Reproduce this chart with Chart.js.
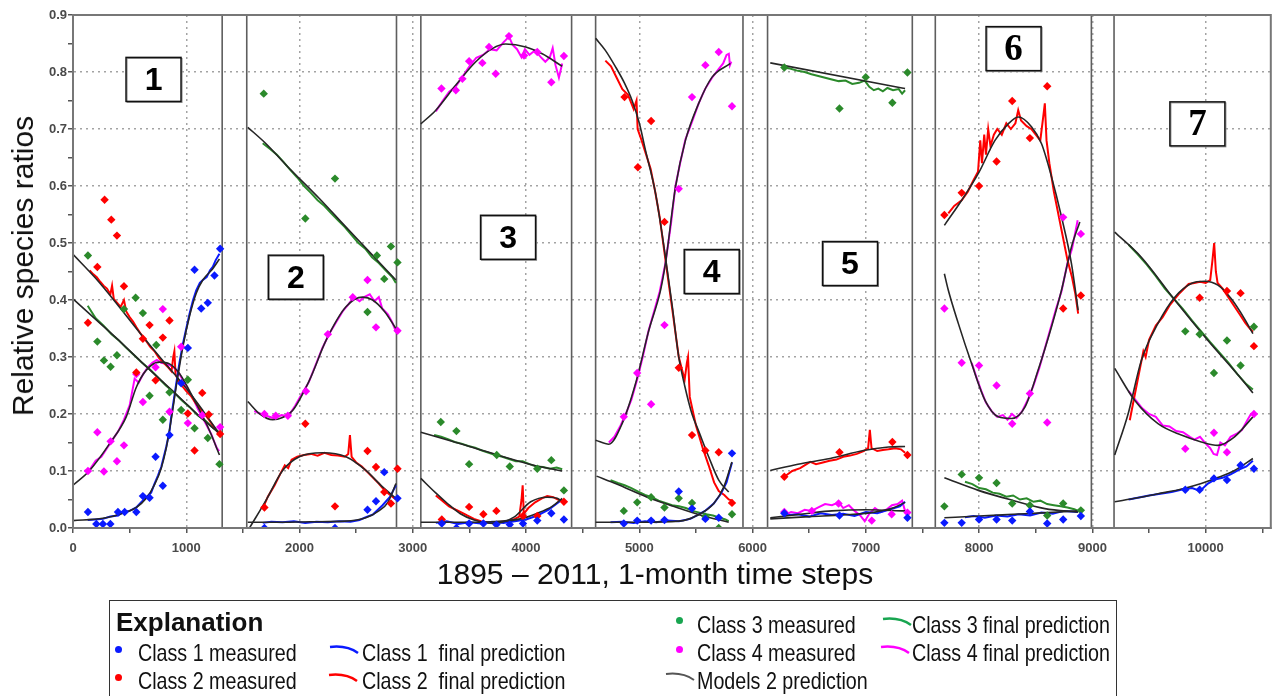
<!DOCTYPE html>
<html>
<head>
<meta charset="utf-8">
<script src="https://cdn.jsdelivr.net/npm/chart.js@4.4.1/dist/chart.umd.min.js"></script>
<style>
  body { margin: 0; background: #fff; }
  #wrap { position: relative; width: 1275px; height: 696px; overflow: hidden;
          font-family: "Liberation Sans", Arial, sans-serif; color: #111; }
  #chart { position: absolute; left: 0; top: 0; }
  .axis-title { position: absolute; font-size: 30px; line-height: 30px; white-space: nowrap;
                transform: translate(-50%, -50%); }
  #ytitle { transform: translate(-50%, -50%) rotate(-90deg); }
  #legendBox { position: absolute; left: 109px; top: 600px; width: 1008px; height: 130px;
               border: 1.5px solid #333; box-sizing: border-box; }
  .lg { position: absolute; font-size: 24px; line-height: 24px; white-space: nowrap;
        transform: scaleX(0.82); transform-origin: 0 50%; }
  .dot { position: absolute; width: 7px; height: 7px; border-radius: 50%; }
  .swoosh { position: absolute; }
</style>
</head>
<body>
<div id="wrap">
  <canvas id="chart" width="1275" height="696"></canvas>
  <div class="axis-title" id="ytitle" style="left:23px; top:266px;">Relative species ratios</div>
  <div class="axis-title" style="left:655px; top:574px;">1895 – 2011, 1-month time steps</div>

  <div id="legendBox"></div>
  <div class="lg" style="left:116px; top:609px; font-weight:bold; font-size:26px; line-height:26px; transform:none;">Explanation</div>

  <div class="dot" style="left:115px; top:646px; background:#0a1aff;"></div>
  <div class="lg" style="left:138px; top:641px;">Class 1 measured</div>
  <div class="dot" style="left:115px; top:674px; background:#ff0000;"></div>
  <div class="lg" style="left:138px; top:669px;">Class 2 measured</div>

  <svg class="swoosh" style="left:329px; top:644px;" width="30" height="12"><path d="M1 3 Q 18 1 29 9" stroke="#0a1aff" stroke-width="2.5" fill="none"/></svg>
  <div class="lg" style="left:362px; top:641px;">Class 1&nbsp; final prediction</div>
  <svg class="swoosh" style="left:328px; top:672px;" width="30" height="12"><path d="M1 3 Q 18 1 29 9" stroke="#ff0000" stroke-width="2.5" fill="none"/></svg>
  <div class="lg" style="left:362px; top:669px;">Class 2&nbsp; final prediction</div>

  <div class="dot" style="left:676px; top:617px; background:#18a550;"></div>
  <div class="lg" style="left:697px; top:613px;">Class 3 measured</div>
  <div class="dot" style="left:676px; top:646px; background:#ff00ff;"></div>
  <div class="lg" style="left:697px; top:641px;">Class 4 measured</div>
  <svg class="swoosh" style="left:665px; top:671px;" width="30" height="12"><path d="M1 3 Q 18 1 29 9" stroke="#555" stroke-width="2" fill="none"/></svg>
  <div class="lg" style="left:697px; top:669px;">Models 2 prediction</div>

  <svg class="swoosh" style="left:882px; top:616px;" width="30" height="12"><path d="M1 3 Q 18 1 29 9" stroke="#18a550" stroke-width="2.5" fill="none"/></svg>
  <div class="lg" style="left:912px; top:613px;">Class 3 final prediction</div>
  <svg class="swoosh" style="left:880px; top:644px;" width="30" height="12"><path d="M1 3 Q 18 1 29 9" stroke="#ff00ff" stroke-width="2.5" fill="none"/></svg>
  <div class="lg" style="left:912px; top:641px;">Class 4 final prediction</div>
</div>

<script>
// measured ratios, all seven panels (time step, ratio)
const class1Measured = [
  [132,0.028],[206,0.007],[264,0.007],[330,0.007],[397,0.028],[456,0.028],[559,0.028],[617,0.056],[676,0.053],[729,0.125],[793,0.074],[852,0.163],[955,0.254],[1014,0.316],[1073,0.453],[1132,0.385],[1190,0.395],[1249,0.443],[1299,0.49],
  [1690,0.0],[2313,0.0],[2600,0.032],[2675,0.047],[2748,0.098],[2865,0.052],
  [3256,0.008],[3385,0.0],[3497,0.008],[3623,0.008],[3738,0.006],[3856,0.006],[3973,0.008],[4099,0.013],[4223,0.026],[4334,0.015],
  [4863,0.008],[4981,0.013],[5104,0.013],[5222,0.014],[5348,0.064],[5465,0.034],[5583,0.016],[5701,0.018],[5818,0.131],
  [6280,0.026],[6767,0.022],[7367,0.018],
  [7693,0.009],[7846,0.009],[7999,0.015],[8154,0.015],[8292,0.013],[8448,0.029],[8601,0.008],[8742,0.015],[8898,0.021],
  [9820,0.067],[9947,0.067],[10073,0.087],[10188,0.084],[10308,0.11],[10426,0.104]
];
const class2Measured = [
  [132,0.36],[215,0.458],[279,0.576],[338,0.541],[388,0.513],[450,0.424],[559,0.273],[617,0.332],[676,0.356],[729,0.259],[793,0.334],[852,0.364],[1014,0.201],[1073,0.136],[1141,0.237],[1199,0.199],[1299,0.165],
  [1690,0.036],[2051,0.183],[2313,0.038],[2600,0.135],[2675,0.107],[2748,0.063],[2807,0.043],[2865,0.104],
  [3256,0.015],[3497,0.037],[3623,0.024],[3738,0.03],[3973,0.021],[4099,0.021],[4334,0.046],
  [4869,0.756],[4987,0.633],[5104,0.714],[5222,0.537],[5348,0.281],[5465,0.163],[5583,0.136],[5701,0.133],[5818,0.044],
  [6280,0.09],[6767,0.133],[7234,0.151],[7367,0.128],
  [7693,0.549],[7846,0.588],[7999,0.6],[8154,0.643],[8292,0.749],[8448,0.684],[8601,0.775],[8742,0.385],[8898,0.408],
  [9947,0.404],[10188,0.416],[10308,0.412],[10426,0.319]
];
const class3Measured = [
  [132,0.478],[215,0.327],[273,0.294],[332,0.283],[388,0.303],[450,0.384],[553,0.404],[617,0.377],[676,0.232],[735,0.321],[793,0.19],[852,0.238],[955,0.207],[1014,0.26],[1073,0.175],[1190,0.158],[1293,0.112],
  [1684,0.762],[2051,0.543],[2313,0.613],[2600,0.379],[2683,0.478],[2748,0.437],[2807,0.494],[2865,0.466],
  [3247,0.186],[3385,0.17],[3497,0.112],[3741,0.128],[3856,0.108],[4099,0.104],[4223,0.119],[4334,0.066],
  [4863,0.03],[4981,0.045],[5104,0.054],[5222,0.036],[5348,0.052],[5465,0.044],[5583,0.02],[5701,0.0],[5818,0.024],
  [6280,0.808],[6767,0.736],[6999,0.791],[7234,0.746],[7367,0.799],
  [7693,0.038],[7846,0.094],[7999,0.088],[8154,0.079],[8292,0.043],[8448,0.04],[8601,0.022],[8742,0.043],[8898,0.031],
  [9820,0.345],[9947,0.34],[10073,0.272],[10188,0.329],[10308,0.285],[10426,0.353]
];
const class4Measured = [
  [132,0.1],[215,0.168],[273,0.099],[332,0.152],[388,0.117],[450,0.145],[559,0.27],[617,0.221],[729,0.282],[793,0.384],[852,0.204],[955,0.318],[1014,0.184],[1141,0.198],[1299,0.177],
  [1690,0.2],[1790,0.197],[1897,0.197],[2057,0.24],[2250,0.34],[2470,0.405],[2600,0.435],[2675,0.352],[2865,0.346],
  [3253,0.771],[3380,0.768],[3438,0.788],[3497,0.819],[3614,0.816],[3673,0.844],[3732,0.797],[3849,0.863],[3982,0.829],[4099,0.835],[4223,0.782],[4334,0.828],
  [4863,0.195],[4981,0.272],[5104,0.217],[5222,0.356],[5348,0.595],[5465,0.756],[5583,0.812],[5701,0.835],[5818,0.74],
  [6280,0.028],[6523,0.03],[6759,0.043],[7052,0.013],[7228,0.024],[7367,0.027],
  [7693,0.385],[7846,0.29],[7999,0.285],[8154,0.25],[8292,0.183],[8448,0.236],[8601,0.185],[8742,0.545],[8898,0.516],
  [9820,0.139],[10073,0.167],[10188,0.133],[10426,0.2]
];

// final predictions, one list per panel
const class1Final = [
  [[130,0.014],[200,0.015],[264,0.016],[330,0.02],[400,0.022],[441,0.028],[500,0.03],[559,0.036],[600,0.045],[647,0.054],[690,0.062],[720,0.078],[750,0.092],[779,0.107],[823,0.142],[852,0.17],[867,0.195],[911,0.253],[940,0.29],[970,0.323],[1000,0.35],[1029,0.376],[1060,0.4],[1088,0.417],[1120,0.43],[1146,0.435],[1180,0.44],[1210,0.452],[1234,0.458],[1260,0.47],[1293,0.481]],
  [[1675,0.009],[1750,0.011],[1850,0.01],[1950,0.012],[2050,0.009],[2150,0.011],[2250,0.01],[2350,0.012],[2450,0.011],[2530,0.014],[2586,0.019],[2650,0.024],[2733,0.04],[2800,0.055],[2851,0.075]],
  [[3203,0.009],[3300,0.012],[3400,0.007],[3500,0.01],[3600,0.008],[3700,0.011],[3800,0.009],[3900,0.012],[4000,0.015],[4100,0.022],[4200,0.032],[4319,0.05]],
  [[4746,0.01],[4850,0.011],[4950,0.009],[5050,0.012],[5150,0.01],[5250,0.013],[5350,0.012],[5450,0.016],[5509,0.022],[5580,0.03],[5657,0.043],[5720,0.06],[5770,0.08],[5818,0.115]],
  [[6274,0.022],[6400,0.024],[6500,0.02],[6600,0.026],[6700,0.023],[6800,0.025],[6900,0.021],[7000,0.028],[7100,0.026],[7200,0.032],[7300,0.038],[7346,0.046]],
  [[7875,0.019],[7950,0.021],[8050,0.018],[8150,0.022],[8250,0.02],[8350,0.024],[8450,0.022],[8550,0.027],[8650,0.025],[8750,0.03],[8874,0.028]],
  [[9320,0.05],[9400,0.053],[9500,0.057],[9600,0.06],[9700,0.063],[9800,0.068],[9880,0.07],[9950,0.065],[10020,0.078],[10080,0.085],[10150,0.088],[10220,0.094],[10300,0.103],[10360,0.108],[10417,0.118]]
];
const class2Final = [
  [[147,0.452],[180,0.445],[210,0.44],[240,0.432],[270,0.425],[300,0.42],[330,0.41],[345,0.425],[360,0.402],[390,0.395],[420,0.388],[450,0.4],[470,0.38],[500,0.37],[530,0.362],[560,0.352],[600,0.34],[640,0.33],[680,0.318],[720,0.31],[760,0.298],[800,0.29],[840,0.282],[870,0.275],[885,0.3],[895,0.31],[905,0.27],[930,0.258],[960,0.25],[1000,0.24],[1040,0.232],[1080,0.22],[1120,0.21],[1160,0.2],[1200,0.19],[1240,0.178],[1270,0.17],[1300,0.163]],
  [[1675,0.034],[1720,0.055],[1780,0.075],[1830,0.095],[1870,0.11],[1900,0.105],[1930,0.12],[1980,0.125],[2040,0.128],[2100,0.13],[2160,0.127],[2220,0.132],[2280,0.128],[2340,0.127],[2400,0.125],[2430,0.13],[2445,0.163],[2460,0.125],[2500,0.115],[2550,0.108],[2600,0.098],[2650,0.088],[2700,0.078],[2750,0.066],[2800,0.058],[2851,0.05]],
  [[3203,0.057],[3260,0.048],[3320,0.038],[3380,0.032],[3424,0.028],[3480,0.022],[3540,0.016],[3600,0.012],[3658,0.01],[3720,0.009],[3780,0.011],[3840,0.012],[3900,0.016],[3940,0.02],[3960,0.05],[3970,0.075],[3980,0.025],[4020,0.035],[4080,0.045],[4140,0.052],[4187,0.056],[4240,0.054],[4280,0.05],[4319,0.048]],
  [[4700,0.82],[4750,0.81],[4800,0.79],[4850,0.77],[4900,0.76],[4950,0.735],[4975,0.75],[4985,0.7],[5020,0.68],[5060,0.655],[5100,0.63],[5140,0.59],[5180,0.545],[5231,0.47],[5290,0.385],[5348,0.3],[5400,0.26],[5420,0.29],[5430,0.3],[5445,0.23],[5500,0.18],[5560,0.14],[5612,0.11],[5660,0.08],[5701,0.065],[5750,0.058],[5789,0.05],[5818,0.048]],
  [[6280,0.09],[6350,0.1],[6420,0.105],[6509,0.116],[6560,0.112],[6620,0.115],[6680,0.118],[6740,0.12],[6800,0.125],[6860,0.127],[6920,0.13],[6980,0.135],[7020,0.14],[7035,0.172],[7050,0.14],[7100,0.135],[7150,0.137],[7200,0.138],[7260,0.14],[7310,0.138],[7346,0.132]],
  [[7728,0.552],[7780,0.565],[7846,0.575],[7900,0.59],[7950,0.61],[7990,0.625],[8010,0.68],[8025,0.64],[8045,0.69],[8060,0.655],[8080,0.7],[8100,0.67],[8130,0.69],[8160,0.7],[8200,0.69],[8240,0.71],[8280,0.7],[8320,0.71],[8345,0.733],[8370,0.715],[8420,0.705],[8460,0.7],[8500,0.69],[8540,0.68],[8565,0.72],[8580,0.745],[8595,0.68],[8620,0.64],[8660,0.59],[8700,0.55],[8740,0.51],[8780,0.47],[8820,0.44],[8850,0.41],[8874,0.376]],
  [[9330,0.189],[9380,0.24],[9420,0.28],[9450,0.31],[9470,0.3],[9500,0.33],[9560,0.355],[9620,0.37],[9680,0.39],[9720,0.4],[9760,0.41],[9800,0.418],[9850,0.428],[9900,0.43],[9950,0.432],[10000,0.43],[10040,0.435],[10060,0.47],[10075,0.5],[10090,0.45],[10105,0.43],[10150,0.42],[10200,0.405],[10250,0.39],[10300,0.375],[10350,0.36],[10390,0.35],[10417,0.344]]
];
const class3Final = [
  [[130,0.39],[200,0.368],[270,0.355],[340,0.34],[400,0.33],[470,0.316],[540,0.303],[610,0.29],[680,0.278],[750,0.264],[820,0.25],[890,0.238],[960,0.224],[1030,0.212],[1100,0.198],[1170,0.188],[1240,0.175],[1293,0.168]],
  [[1675,0.675],[1740,0.665],[1800,0.655],[1860,0.642],[1920,0.628],[1980,0.615],[2040,0.6],[2100,0.588],[2160,0.575],[2220,0.565],[2280,0.552],[2340,0.54],[2400,0.528],[2460,0.514],[2520,0.5],[2580,0.49],[2640,0.475],[2700,0.465],[2760,0.452],[2820,0.44],[2851,0.43]],
  [[3188,0.163],[3250,0.16],[3310,0.156],[3370,0.151],[3430,0.148],[3490,0.144],[3550,0.141],[3610,0.136],[3670,0.132],[3730,0.128],[3790,0.125],[3850,0.121],[3910,0.117],[3970,0.117],[4030,0.112],[4090,0.108],[4150,0.107],[4210,0.104],[4270,0.106],[4319,0.103]],
  [[4746,0.084],[4810,0.079],[4870,0.075],[4930,0.07],[4990,0.064],[5050,0.058],[5110,0.054],[5170,0.048],[5230,0.044],[5290,0.04],[5350,0.038],[5410,0.035],[5470,0.03],[5530,0.027],[5590,0.024],[5650,0.022],[5710,0.018],[5760,0.015],[5789,0.012]],
  [[6274,0.808],[6330,0.806],[6400,0.802],[6460,0.8],[6520,0.796],[6580,0.793],[6640,0.79],[6700,0.787],[6760,0.784],[6820,0.785],[6880,0.779],[6940,0.781],[6990,0.785],[7030,0.774],[7070,0.768],[7110,0.771],[7150,0.766],[7190,0.772],[7240,0.768],[7290,0.77],[7320,0.762],[7346,0.768]],
  [[7875,0.081],[7940,0.077],[8000,0.07],[8060,0.068],[8120,0.062],[8180,0.06],[8240,0.055],[8300,0.057],[8360,0.05],[8420,0.052],[8480,0.046],[8540,0.048],[8600,0.042],[8660,0.04],[8720,0.038],[8780,0.036],[8840,0.033],[8874,0.03]],
  [[9320,0.497],[9400,0.48],[9480,0.462],[9560,0.442],[9640,0.42],[9720,0.402],[9800,0.384],[9880,0.364],[9960,0.345],[10040,0.326],[10120,0.308],[10200,0.29],[10280,0.27],[10360,0.252],[10417,0.243]]
];
const class4Final = [
  [[100,0.1],[150,0.103],[200,0.118],[250,0.125],[300,0.14],[350,0.155],[400,0.17],[450,0.19],[500,0.215],[544,0.262],[580,0.255],[620,0.27],[660,0.282],[700,0.29],[740,0.295],[780,0.29],[820,0.288],[860,0.285],[900,0.28],[940,0.27],[980,0.255],[1020,0.24],[1060,0.228],[1100,0.21],[1140,0.195],[1180,0.18],[1220,0.165],[1250,0.15],[1270,0.14],[1290,0.135]],
  [[1600,0.205],[1660,0.2],[1720,0.196],[1780,0.192],[1840,0.198],[1900,0.196],[1960,0.214],[2020,0.235],[2080,0.255],[2140,0.285],[2200,0.315],[2260,0.34],[2320,0.36],[2380,0.38],[2430,0.392],[2480,0.405],[2530,0.398],[2570,0.405],[2620,0.41],[2660,0.398],[2700,0.405],[2730,0.385],[2780,0.375],[2820,0.36],[2851,0.345]],
  [[3203,0.731],[3260,0.748],[3320,0.765],[3380,0.775],[3440,0.792],[3500,0.81],[3560,0.825],[3620,0.83],[3680,0.84],[3740,0.838],[3800,0.852],[3850,0.862],[3880,0.848],[3920,0.84],[3960,0.826],[3990,0.84],[4030,0.83],[4080,0.838],[4130,0.826],[4170,0.818],[4210,0.826],[4235,0.842],[4260,0.812],[4290,0.79],[4319,0.815]],
  [[4731,0.15],[4780,0.16],[4830,0.178],[4880,0.2],[4930,0.225],[4980,0.26],[5030,0.3],[5080,0.345],[5130,0.38],[5180,0.415],[5231,0.465],[5280,0.535],[5319,0.6],[5360,0.64],[5407,0.682],[5460,0.71],[5524,0.745],[5580,0.77],[5642,0.79],[5700,0.805],[5740,0.815],[5770,0.83],[5790,0.832],[5800,0.812],[5812,0.818]],
  [[6274,0.022],[6340,0.028],[6400,0.026],[6460,0.032],[6520,0.03],[6580,0.036],[6640,0.042],[6700,0.04],[6760,0.045],[6800,0.035],[6850,0.04],[6900,0.03],[6950,0.022],[6990,0.012],[7030,0.025],[7080,0.035],[7130,0.028],[7180,0.032],[7230,0.04],[7280,0.042],[7320,0.048],[7346,0.03]],
  [[7934,0.29],[7980,0.262],[8020,0.24],[8060,0.22],[8110,0.205],[8160,0.195],[8210,0.198],[8250,0.19],[8290,0.2],[8330,0.193],[8380,0.205],[8430,0.225],[8480,0.25],[8530,0.28],[8580,0.315],[8630,0.35],[8680,0.385],[8727,0.415],[8780,0.465],[8820,0.49],[8850,0.52],[8870,0.54]],
  [[9320,0.24],[9380,0.225],[9440,0.21],[9500,0.2],[9560,0.195],[9620,0.18],[9680,0.178],[9740,0.17],[9800,0.168],[9860,0.16],[9900,0.155],[9950,0.16],[10000,0.148],[10040,0.14],[10070,0.13],[10100,0.128],[10130,0.15],[10170,0.145],[10220,0.16],[10270,0.165],[10320,0.172],[10370,0.19],[10400,0.2],[10430,0.2]]
];

// "Models 2" predictions (black), one list per panel
const class1Model = [
  [[0,0.013],[264,0.017],[441,0.026],[559,0.036],[647,0.052],[720,0.076],[779,0.105],[823,0.14],[867,0.19],[911,0.248],[970,0.318],[1029,0.372],[1088,0.412],[1146,0.435],[1234,0.455],[1293,0.472]],
  [[1543,0.01],[1800,0.01],[2100,0.011],[2400,0.012],[2586,0.018],[2700,0.03],[2780,0.045],[2851,0.078]],
  [[3071,0.01],[3400,0.01],[3700,0.011],[3950,0.016],[4100,0.026],[4230,0.038],[4319,0.052]],
  [[4614,0.01],[5000,0.01],[5350,0.012],[5509,0.022],[5657,0.043],[5745,0.072],[5818,0.116]],
  [[6156,0.016],[6500,0.02],[6800,0.023],[7050,0.027],[7250,0.036],[7346,0.045]],
  [[7693,0.018],[8000,0.021],[8300,0.024],[8600,0.027],[8874,0.03]],
  [[9197,0.046],[9400,0.053],[9579,0.06],[9800,0.069],[9961,0.078],[10100,0.088],[10255,0.101],[10417,0.122]]
];
const class2Model = [
  [[0,0.48],[200,0.438],[400,0.39],[600,0.34],[800,0.292],[1000,0.245],[1150,0.205],[1293,0.165]],
  [[1558,0.0],[1705,0.049],[1851,0.101],[1998,0.125],[2204,0.132],[2410,0.125],[2586,0.101],[2733,0.072],[2851,0.052]],
  [[3071,0.087],[3200,0.062],[3306,0.043],[3420,0.025],[3541,0.014],[3717,0.008],[3893,0.019],[4041,0.046],[4187,0.054],[4275,0.052],[4319,0.046]],
  [[4614,0.859],[4700,0.838],[4790,0.809],[4870,0.78],[4936,0.75],[5000,0.71],[5054,0.663],[5143,0.587],[5231,0.475],[5290,0.39],[5348,0.3],[5400,0.25],[5465,0.2],[5524,0.17],[5612,0.125],[5701,0.084],[5789,0.063]],
  [[6156,0.101],[6400,0.112],[6685,0.122],[6979,0.136],[7200,0.142],[7346,0.143]],
  [[7693,0.531],[7846,0.575],[7993,0.622],[8140,0.68],[8257,0.709],[8345,0.721],[8462,0.704],[8551,0.674],[8639,0.616],[8727,0.546],[8815,0.464],[8874,0.382]],
  [[9197,0.128],[9315,0.2],[9432,0.294],[9579,0.359],[9727,0.405],[9873,0.429],[9991,0.433],[10108,0.426],[10226,0.402],[10343,0.367],[10417,0.341]]
];
const class3Model = [
  [[0,0.402],[200,0.366],[400,0.33],[600,0.292],[800,0.255],[1000,0.218],[1150,0.19],[1293,0.166]],
  [[1543,0.703],[1700,0.675],[1900,0.633],[2175,0.578],[2400,0.53],[2600,0.488],[2851,0.435]],
  [[3071,0.168],[3300,0.155],[3550,0.14],[3800,0.125],[4050,0.111],[4319,0.1]],
  [[4622,0.091],[4800,0.077],[5069,0.054],[5300,0.038],[5550,0.022],[5789,0.01]],
  [[6156,0.816],[7346,0.771]],
  [[7693,0.088],[7993,0.066],[8286,0.049],[8580,0.034],[8874,0.028]],
  [[9197,0.519],[9432,0.475],[9727,0.4],[10020,0.329],[10314,0.262],[10417,0.237]]
];
const class4Model = [
  [[0,0.075],[147,0.101],[323,0.148],[470,0.195],[559,0.247],[647,0.277],[764,0.291],[852,0.288],[940,0.271],[1088,0.218],[1205,0.171],[1293,0.128]],
  [[1543,0.222],[1650,0.2],[1763,0.19],[1850,0.194],[1939,0.206],[2087,0.259],[2234,0.329],[2410,0.388],[2557,0.405],[2645,0.4],[2750,0.38],[2851,0.35]],
  [[3071,0.709],[3203,0.733],[3380,0.777],[3556,0.818],[3702,0.841],[3820,0.849],[3997,0.844],[4143,0.832],[4319,0.81]],
  [[4614,0.154],[4731,0.147],[4848,0.183],[4966,0.253],[5084,0.347],[5187,0.417],[5231,0.465],[5319,0.598],[5407,0.68],[5524,0.745],[5642,0.791],[5804,0.815]],
  [[6156,0.018],[6500,0.026],[6700,0.03],[7000,0.032],[7346,0.03]],
  [[7693,0.446],[7728,0.417],[7816,0.359],[7934,0.288],[8052,0.224],[8169,0.195],[8286,0.192],[8404,0.212],[8521,0.277],[8639,0.353],[8727,0.417],[8815,0.493],[8889,0.537]],
  [[9197,0.28],[9373,0.224],[9579,0.183],[9785,0.163],[9961,0.151],[10108,0.145],[10255,0.16],[10417,0.195]]
];

// vertical lines closing each panel (time step)
const panelEdges = [1317, 1534, 2856, 3071, 4402, 4614, 5915, 6132, 7410, 7613, 8991, 9191];
const panelNames = ['1', '2', '3', '4', '5', '6', '7'];

// x ticks every 500, labelled every 1000
const xTickValues = [];
for (let v = 0; v <= 10500; v += 500) xTickValues.push(v);

const BLUE = '#0a1aff', RED = '#ff0000', GREEN = '#2b8a2b', MAGENTA = '#ff00ff', MODEL = '#262626';

const toXY = list => list.map(p => ({ x: p[0], y: p[1] }));

function pointSet(list, color) {
  return {
    data: toXY(list), showLine: false, pointStyle: 'rectRot', pointRadius: 4.2,
    backgroundColor: color, borderWidth: 0, order: 1
  };
}
function lineSets(panels, color, width, smooth, order) {
  return panels.map(list => ({
    data: toXY(list), showLine: true, pointRadius: 0, borderColor: color, borderWidth: width,
    cubicInterpolationMode: smooth ? 'monotone' : 'default', tension: 0, order: order
  }));
}

const datasets = [];
panelEdges.forEach(x => datasets.push({
  data: [{ x: x, y: 0 }, { x: x, y: 0.9 }], showLine: true, pointRadius: 0,
  borderColor: '#5e5e5e', borderWidth: 1.6, order: 6
}));
[[class1Final, BLUE], [class2Final, RED], [class3Final, GREEN], [class4Final, MAGENTA]]
  .forEach(([p, c]) => datasets.push(...lineSets(p, c, 2, false, 4)));
[class1Model, class2Model, class3Model, class4Model]
  .forEach(p => datasets.push(...lineSets(p, MODEL, 1.6, true, 2)));
datasets.push(pointSet(class1Measured, BLUE), pointSet(class2Measured, RED),
              pointSet(class3Measured, GREEN), pointSet(class4Measured, MAGENTA));

// panel number boxes, anchored in data units
const panelNameAt = [[711, 0.787], [1967, 0.44], [3841, 0.51], [5639, 0.45], [6860, 0.464], [8304, 0.841], [9927, 0.709]];

const framePlugin = {
  id: 'frame',
  afterDatasetsDraw(chart) {
    const { ctx, chartArea: a, scales: { x, y } } = chart;
    ctx.save();
    ctx.strokeStyle = '#777';
    ctx.lineWidth = 2;
    ctx.strokeRect(a.left, a.top, a.right - a.left, a.bottom - a.top);

    panelNames.forEach((name, i) => {
      const cx = x.getPixelForValue(panelNameAt[i][0]);
      const cy = y.getPixelForValue(panelNameAt[i][1]);
      const w = 55, h = 44;
      ctx.fillStyle = '#fff';
      ctx.fillRect(cx - w / 2, cy - h / 2, w, h);
      ctx.strokeStyle = '#888';
      ctx.lineWidth = 1;
      ctx.strokeRect(cx - w / 2 + 1, cy - h / 2 + 1, w, h);
      ctx.strokeStyle = '#111';
      ctx.lineWidth = 1.5;
      ctx.strokeRect(cx - w / 2, cy - h / 2, w, h);
      ctx.fillStyle = '#000';
      ctx.textAlign = 'center';
      ctx.textBaseline = 'middle';
      ctx.font = i < 5 ? 'bold 32px "Liberation Sans", Arial' : 'bold 37px "Liberation Serif", serif';
      ctx.fillText(name, cx, cy + 2);
    });
    ctx.restore();
  }
};

const tickFont = { family: '"Liberation Sans", Arial, sans-serif', size: 13, weight: 'bold' };
const isTenth = v => Math.round(v * 20) % 2 === 0;

new Chart(document.getElementById('chart'), {
  type: 'scatter',
  data: { datasets: datasets },
  options: {
    responsive: false,
    animation: false,
    layout: { padding: { left: 0, top: 15, right: 2, bottom: 0 } },
    plugins: { legend: { display: false }, tooltip: { enabled: false } },
    scales: {
      x: {
        type: 'linear', min: 0, max: 10575,
        afterBuildTicks: s => { s.ticks = xTickValues.map(v => ({ value: v })); },
        afterFit: s => { s.height = 168; },
        border: { color: '#6a6a6a', width: 2, dash: [2, 4] },
        grid: {
          color: c => (c.tick && c.tick.value % 1000 === 0) ? '#a3a3a3' : 'rgba(0,0,0,0)',
          lineWidth: 1.5, tickLength: 5, tickColor: '#555', tickWidth: 1.5
        },
        ticks: {
          autoSkip: false, maxRotation: 0, padding: 8,
          color: '#4a4a4a', font: tickFont,
          callback: v => v % 1000 === 0 ? String(v) : ''
        }
      },
      y: {
        min: 0, max: 0.9,
        afterFit: s => { s.width = 73; },
        border: { color: '#6a6a6a', width: 2, dash: [2, 4] },
        grid: {
          color: c => (c.tick && isTenth(c.tick.value)) ? '#a3a3a3' : 'rgba(0,0,0,0)',
          lineWidth: 1.5, tickLength: 5, tickColor: '#555', tickWidth: 1.5
        },
        ticks: {
          stepSize: 0.05, autoSkip: false, padding: 1,
          color: '#4a4a4a', font: tickFont,
          callback: v => isTenth(v) ? v.toFixed(1) : ''
        }
      }
    }
  },
  plugins: [framePlugin]
});
</script>
</body>
</html>
